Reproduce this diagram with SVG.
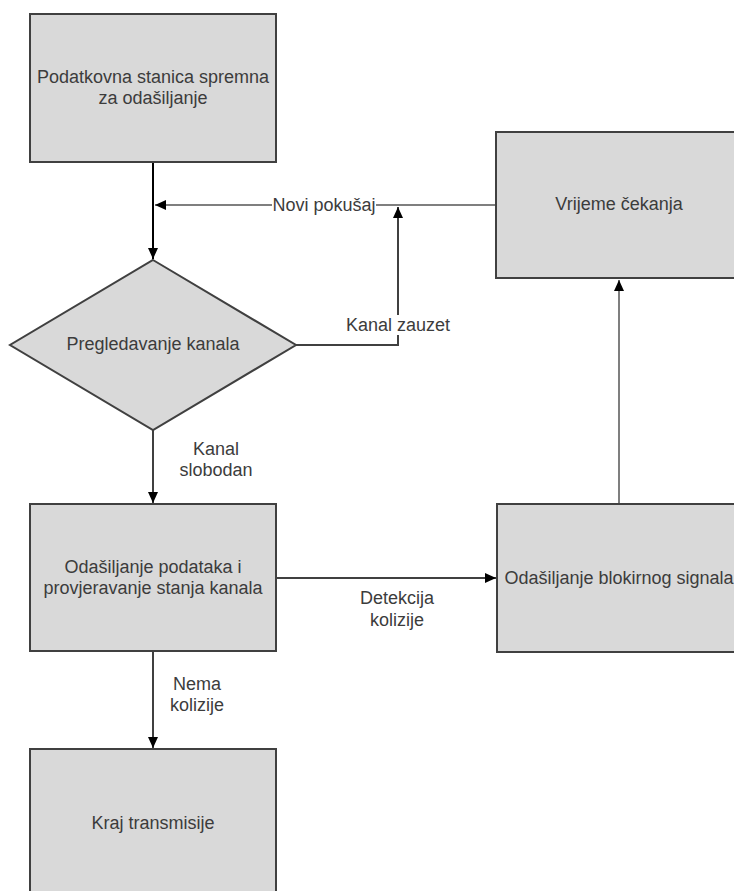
<svg xmlns="http://www.w3.org/2000/svg" width="734" height="891" viewBox="0 0 734 891">
<style>
.box{fill:#d9d9d9;stroke:#404040;stroke-width:2}
.t{font-family:"Liberation Sans",Arial,sans-serif;font-size:18px;fill:#3c3c3c;text-anchor:middle}
.cb{fill:none;stroke:#000;stroke-width:2}
.cg{fill:none;stroke:#7f7f7f;stroke-width:2}
.cd{fill:none;stroke:#404040;stroke-width:2}
</style>
<defs>
<marker id="ah" markerUnits="userSpaceOnUse" markerWidth="12" markerHeight="12" viewBox="0 0 12 12" refX="11" refY="6" orient="auto">
<path d="M0,1 L11,6 L0,11 Z" fill="#000"/>
</marker>
</defs>
<rect width="734" height="891" fill="#fff"/>
<g id="connectors">
<path class="cb" d="M153 163 V259" marker-end="url(#ah)"/>
<path class="cg" d="M496 205 H155" marker-end="url(#ah)"/>
<path class="cd" d="M296 345 H398 V207" marker-end="url(#ah)"/>
<path class="cd" d="M153 430 V503" marker-end="url(#ah)"/>
<path class="cd" d="M277 578 H496" marker-end="url(#ah)"/>
<path class="cg" d="M619 503 V280" marker-end="url(#ah)"/>
<path class="cd" d="M153 652 V748" marker-end="url(#ah)"/>
<rect x="272" y="195" width="104" height="20" fill="#fff"/>
<text class="t" x="324" y="211">Novi pokušaj</text>
<rect x="343" y="315" width="111" height="20" fill="#fff"/>
<text class="t" x="398" y="331">Kanal zauzet</text>
<text class="t" x="216" y="455">Kanal</text>
<text class="t" x="216" y="476">slobodan</text>
<text class="t" x="397" y="604">Detekcija</text>
<text class="t" x="397" y="626">kolizije</text>
<text class="t" x="197" y="690">Nema</text>
<text class="t" x="197" y="711">kolizije</text>
</g>
<g id="n1">
<rect class="box" x="30" y="14" width="246" height="148"/>
<text class="t" x="153" y="83">Podatkovna stanica spremna</text>
<text class="t" x="153" y="104">za odašiljanje</text>
</g>
<g id="n2">
<path class="box" d="M153 260 L296 345 L153 430 L10 345 Z"/>
<text class="t" x="153" y="350">Pregledavanje kanala</text>
</g>
<g id="n3">
<rect class="box" x="496" y="132" width="246" height="146"/>
<text class="t" x="619" y="210">Vrijeme čekanja</text>
</g>
<g id="n4">
<rect class="box" x="30" y="504" width="246" height="147"/>
<text class="t" x="153" y="573">Odašiljanje podataka i</text>
<text class="t" x="153" y="594">provjeravanje stanja kanala</text>
</g>
<g id="n5">
<rect class="box" x="497" y="504" width="246" height="148"/>
<text class="t" x="619" y="584">Odašiljanje blokirnog signala</text>
</g>
<g id="n6">
<rect class="box" x="30" y="749" width="246" height="148"/>
<text class="t" x="153" y="829">Kraj transmisije</text>
</g>
</svg>
